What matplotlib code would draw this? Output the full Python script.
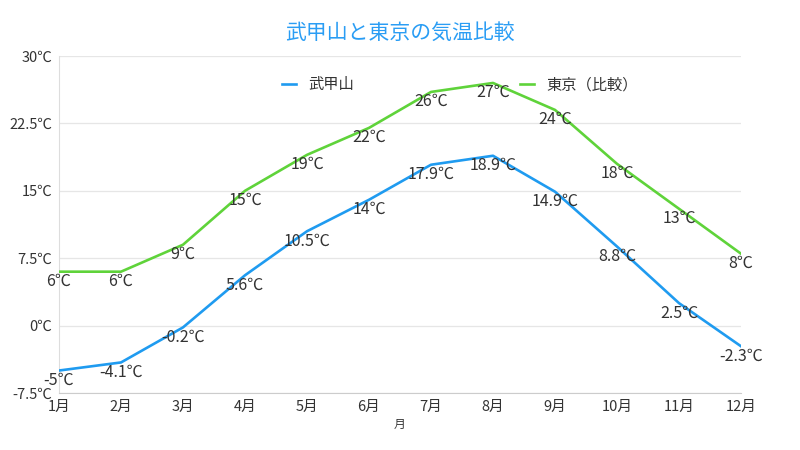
import matplotlib
matplotlib.use('Agg')
import matplotlib.pyplot as plt

plt.rcParams['font.family'] = ['Noto Sans CJK JP', 'DejaVu Sans']

months = ['1月', '2月', '3月', '4月', '5月', '6月', '7月', '8月', '9月', '10月', '11月', '12月']
bukozan = [-5, -4.1, -0.2, 5.6, 10.5, 14, 17.9, 18.9, 14.9, 8.8, 2.5, -2.3]
tokyo = [6, 6, 9, 15, 19, 22, 26, 27, 24, 18, 13, 8]
yticks = [-7.5, 0, 7.5, 15, 22.5, 30]

blue = '#1f9bf0'
green = '#5fd33a'
textc = '#333333'

def fmt(v):
    return ('%g' % v) + '℃'

fig = plt.figure(figsize=(8, 4.5), dpi=100)
ax = fig.add_axes([59/800, 1-393/450, (741-59)/800, (393-56)/450])

x = list(range(len(months)))
ax.plot(x, bukozan, color=blue, lw=1.9, label='武甲山', zorder=3)
ax.plot(x, tokyo, color=green, lw=1.9, label='東京（比較）', zorder=3)

for xs, ys in [(x, bukozan), (x, tokyo)]:
    for xi, yi in zip(xs, ys):
        ax.annotate(fmt(yi), (xi, yi), xytext=(0, -7), textcoords='offset points',
                    ha='center', va='center', fontsize=11.5, color=textc, zorder=4)

ax.set_xlim(0, 11)
ax.set_ylim(-7.5, 30)
ax.set_xticks(x)
ax.set_xticklabels(months, fontsize=10.5, color=textc)
ax.set_yticks(yticks)
ax.set_yticklabels([fmt(v) for v in yticks], fontsize=10.5, color=textc)
ax.tick_params(length=0, pad=5)
ax.grid(axis='y', color='#e6e6e6', lw=0.9)
ax.set_axisbelow(True)
for s in ['top', 'right']:
    ax.spines[s].set_visible(False)
ax.spines['left'].set_color('#dddddd')
ax.spines['bottom'].set_color('#cccccc')

ax.set_xlabel('月', fontsize=8.5, color=textc, labelpad=3)
fig.text(0.5, 1-33/450, '武甲山と東京の気温比較', ha='center', va='center',
         fontsize=15, color='#2a9df4')

ax.legend(loc='center', bbox_to_anchor=(460/800, 1-85/450), bbox_transform=fig.transFigure,
          ncol=2, frameon=False, handlelength=0.9, columnspacing=10.9, fontsize=11,
          labelcolor=textc)

fig.savefig('out.png', dpi=100)
